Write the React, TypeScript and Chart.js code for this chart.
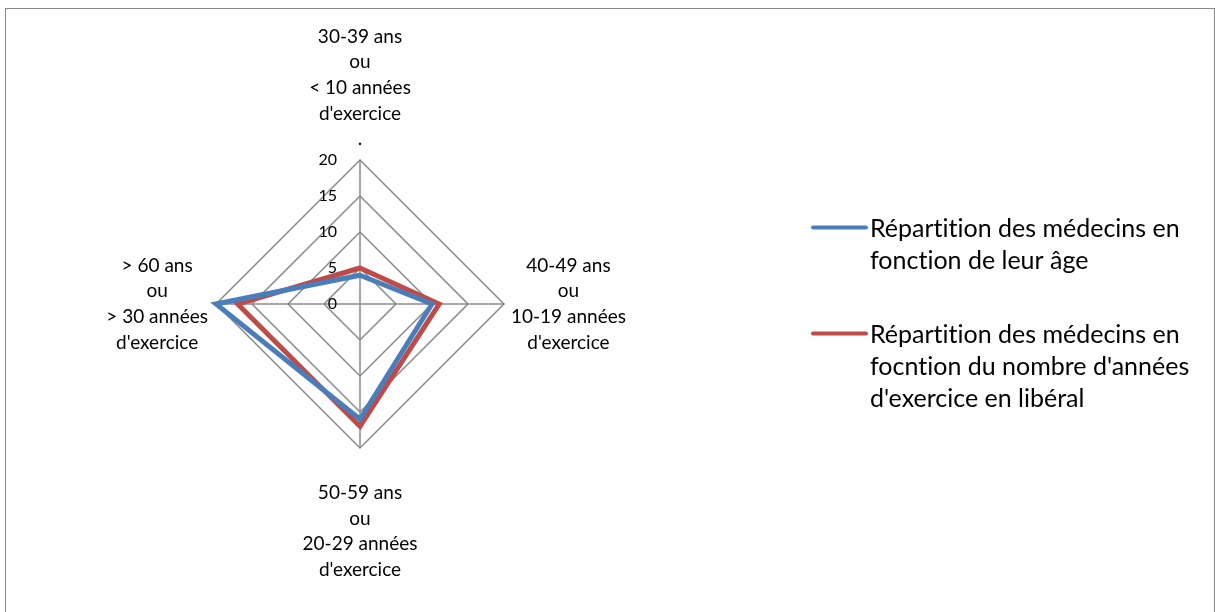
import React, { useEffect, useRef } from "react";
import { Chart, registerables } from "chart.js";

Chart.register(...registerables);

const categories: string[][] = [
  ["30-39 ans", "ou", "< 10 années", "d'exercice", "."],
  ["40-49 ans", "ou", "10-19 années", "d'exercice"],
  ["50-59 ans", "ou", "20-29 années", "d'exercice"],
  ["> 60 ans", "ou", "> 30 années", "d'exercice"],
];

const ageValues: number[] = [4, 10, 16, 20];
const exerciceValues: number[] = [5, 11, 17, 17];

const seriesLegendLines: string[][] = [
  ["Répartition des médecins en", "fonction de leur âge"],
  ["Répartition des médecins en", "focntion du nombre d'années", "d'exercice en libéral"],
];

const tickValues: number[] = [0, 5, 10, 15, 20];

const FONT = "Lato, Calibri, 'DejaVu Sans', sans-serif";
const LABEL_SIZE = 19;
const LABEL_LH = 25.6;
const TICK_SIZE = 16;
const LEGEND_SIZE = 25;
const LEGEND_LH = 32;

const BLUE = "#4A7EBB";
const RED = "#BE4B48";
const GRID = "#8a8a8a";

function noLig(ctx: any) {
  try {
    ctx.textRendering = "optimizeSpeed";
  } catch (e) {}
}

const customDraw = {
  id: "customDraw",
  beforeDatasetsDraw(chart: any) {
    const scale = chart.scales.r;
    const ctx = chart.ctx as CanvasRenderingContext2D;
    ctx.save();
    noLig(ctx);
    ctx.fillStyle = "#000";
    // tick labels
    ctx.font = `${TICK_SIZE}px ${FONT}`;
    ctx.textAlign = "right";
    ctx.textBaseline = "middle";
    for (const v of tickValues) {
      const d = scale.getDistanceFromCenterForValue(v);
      ctx.fillText(String(v), scale.xCenter - 23, scale.yCenter - d);
    }
    // point labels
    ctx.font = `${LABEL_SIZE}px ${FONT}`;
    ctx.textAlign = "center";
    const labels: string[][] = chart.data.labels;
    labels.forEach((lines, i) => {
      const p = scale.getPointPosition(i, scale.drawingArea);
      const dx = p.x - scale.xCenter;
      const dy = p.y - scale.yCenter;
      const maxW = Math.max(...lines.map((l) => ctx.measureText(l).width));
      const n = lines.length;
      let cx = p.x;
      let firstY = p.y;
      if (Math.abs(dy) > Math.abs(dx)) {
        if (dy < 0) {
          firstY = p.y - 21 - (n - 1) * LABEL_LH;
        } else {
          firstY = p.y + 45;
        }
      } else {
        firstY = p.y - ((n - 1) * LABEL_LH) / 2;
        if (dx > 0) cx = p.x + 7 + maxW / 2;
        else cx = p.x - 8 - maxW / 2;
      }
      lines.forEach((l, k) => {
        ctx.fillText(l, cx, firstY + k * LABEL_LH);
      });
    });
    ctx.restore();
  },
  afterDraw(chart: any) {
    const ctx = chart.ctx as CanvasRenderingContext2D;
    ctx.save();
    noLig(ctx);
    ctx.font = `${LEGEND_SIZE}px ${FONT}`;
    ctx.textAlign = "left";
    ctx.textBaseline = "middle";
    const starts = [227.5, 333.5];
    chart.data.datasets.forEach((ds: any, i: number) => {
      const y = starts[i];
      ctx.strokeStyle = ds.borderColor;
      ctx.lineWidth = 4;
      ctx.lineCap = "round";
      ctx.beginPath();
      ctx.moveTo(813, y);
      ctx.lineTo(866, y);
      ctx.stroke();
      ctx.fillStyle = "#000";
      seriesLegendLines[i].forEach((l, k) => {
        ctx.fillText(l, 870, y + 1 + k * LEGEND_LH);
      });
    });
    ctx.restore();
  },
};

export default function App() {
  const ref = useRef<HTMLCanvasElement>(null);
  useEffect(() => {
    if (!ref.current) return;
    const chart = new Chart(ref.current, {
      type: "radar",
      data: {
        labels: categories as any,
        datasets: [
          {
            label: seriesLegendLines[0].join(" "),
            data: ageValues,
            borderColor: BLUE,
            backgroundColor: "transparent",
            borderWidth: 5,
            pointRadius: 0,
            borderJoinStyle: "miter",
            fill: false,
          },
          {
            label: seriesLegendLines[1].join(" "),
            data: exerciceValues,
            borderColor: RED,
            backgroundColor: "transparent",
            borderWidth: 5,
            pointRadius: 0,
            borderJoinStyle: "miter",
            fill: false,
          },
        ],
      },
      options: {
        responsive: false,
        animation: false,
        layout: { padding: { left: 216, top: 160, right: 711, bottom: 164 } },
        plugins: { legend: { display: false }, tooltip: { enabled: false } },
        elements: { line: { tension: 0 } },
        scales: {
          r: {
            min: 0,
            max: 20,
            beginAtZero: true,
            ticks: { display: false, stepSize: 5 },
            pointLabels: { display: false },
            grid: { color: GRID, lineWidth: 1.5, circular: false },
            angleLines: { color: GRID, lineWidth: 1.5 },
          },
        },
      },
      plugins: [customDraw],
    });
    return () => chart.destroy();
  }, []);
  return (
    <div style={{ position: "fixed", left: 0, top: 0, width: 1215, height: 612, background: "#fff" }}>
      <canvas ref={ref} width={1215} height={612} style={{ display: "block", position: "absolute", left: 0, top: 0 }} />
      <div
        style={{
          position: "absolute",
          left: 5,
          top: 8,
          width: 1210,
          height: 700,
          boxSizing: "border-box",
          border: "1.5px solid #888",
          pointerEvents: "none",
        }}
      />
    </div>
  );
}
